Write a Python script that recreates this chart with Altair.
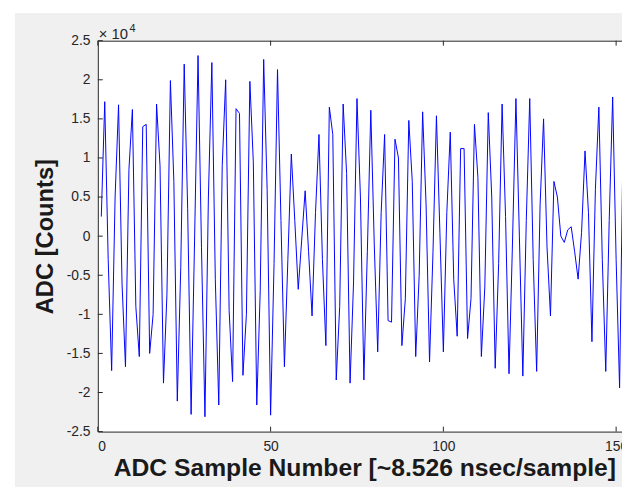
import altair as alt
import pandas as pd

# ADC samples (MATLAB 1-based sample index) and counts
sample_number = list(range(1, 153))
adc_counts = [
    2500, 17200, -3000, -17200, 5000, 16800, -6000, -16700, 8500, 16200,
    -9000, -15400, 14000, 14300, -15000, -10000, 16900, 9000, -18800, -7500,
    19900, 7000, -21100, -4000, 22000, 3500, -22800, -500, 23100, -1500,
    -23100, 5000, 22200, -5500, -21600, 9000, 20000, -9500, -18600, 16300,
    15700, -17800, -10000, 19800, 9500, -21600, -7000, 22600, 6000, -22900,
    -3500, 21300, 2000, -16700, -3000, 10500, 2000, -6800, -500, 5800,
    -2000, -10200, 3000, 13000, -3000, -14000, 16500, 13000, -18400, -9000,
    16900, 8000, -18800, -6000, 17600, 5000, -18400, -2000, 16100, -1000,
    -14800, 3000, 13000, -10800, -11000, 12400, 10000, -14000, -8000, 14800,
    7000, -15400, -5000, 15900, 4000, -16100, -2000, 15400, 500, -14800,
    3000, 13300, -5500, -12800, 11200, 11200, -13100, -8000, 14300, 7500,
    -15400, -6500, 15800, 5000, -16900, -3500, 16900, 2500, -17600, -1000,
    17600, 0, -17900, 2000, 17600, -3000, -17300, 4000, 15000, -1400,
    -10200, 7000, 5000, 0, -800, 800, 1200, -2000, -5500, 500,
    10900, 3000, -13500, 6000, 16500, -3000, -17300, 2000, 17800, -3000,
    -19400, 12000,
]

x_ticks = [0, 50, 100, 150]
y_ticks = [-25000, -20000, -15000, -10000, -5000, 0, 5000, 10000, 15000, 20000, 25000]

x_domain = [0, 151.7]
y_domain = [-25000, 25000]

AX = "#262626"
FONT = "Liberation Sans"

df = pd.DataFrame({"n": sample_number, "adc": adc_counts})
xt = pd.DataFrame({"v": x_ticks})
yt = pd.DataFrame({"v": y_ticks})
one = pd.DataFrame({"k": [0]})

xs = alt.Scale(domain=x_domain, nice=False, zero=False)
ys = alt.Scale(domain=y_domain, nice=False, zero=False)

# figure (grey) and axes (white) backgrounds
fig_bg = alt.Chart(one).mark_rect(color="#f0f0f0").encode(
    x=alt.value(-84), x2=alt.value(700), y=alt.value(-28), y2=alt.value(500)
)
ax_bg = alt.Chart(one).mark_rect(color="white").encode(
    x=alt.value(0), x2=alt.value(531), y=alt.value(0), y2=alt.value(396)
)

line = alt.Chart(df).mark_line(color="#0000ff", strokeWidth=1, clip=True).encode(
    x=alt.X("n:Q", scale=xs, axis=alt.Axis(
        values=x_ticks, format="d", ticks=False, domain=True, domainColor=AX,
        labelFontSize=14, labelColor=AX, labelPadding=8, labelFont=FONT,
        title="ADC Sample Number [~8.526 nsec/sample]", titleFont=FONT,
        titleFontSize=25, titleFontWeight="bold", titleColor="#1a1a1a",
        titleX=270, titleY=44, titleBaseline="alphabetic", titleAlign="center",
        grid=False, zindex=1)),
    y=alt.Y("adc:Q", scale=ys, axis=alt.Axis(
        values=y_ticks, labelExpr="'' + (datum.value / 10000)", ticks=False,
        domain=True, domainColor=AX, labelFontSize=14, labelColor=AX,
        labelPadding=8, labelFont=FONT,
        title="ADC [Counts]", titleFont=FONT, titleFontSize=24,
        titleFontWeight="bold", titleColor="#1a1a1a",
        titleX=-46, titleY=198, titleBaseline="alphabetic", titleAlign="center",
        grid=False, zindex=1)),
)

top_ticks = alt.Chart(xt).mark_rule(color=AX, strokeWidth=1).encode(
    x=alt.X("v:Q", scale=xs, axis=alt.Axis(
        orient="top", labels=False, ticks=False, domain=True, domainColor=AX,
        title="", grid=False, zindex=1)),
    y=alt.value(0), y2=alt.value(5),
)

bottom_ticks = alt.Chart(xt).mark_rule(color=AX, strokeWidth=1).encode(
    x=alt.X("v:Q", scale=xs, axis=None),
    y=alt.value(396), y2=alt.value(391),
)

left_ticks = alt.Chart(yt).mark_rule(color=AX, strokeWidth=1).encode(
    y=alt.Y("v:Q", scale=ys, axis=None),
    x=alt.value(0), x2=alt.value(5),
)

exp_base = alt.Chart(pd.DataFrame({"t": ["\u00d7 10"]})).mark_text(
    align="left", baseline="alphabetic", fontSize=15, font=FONT, color=AX
).encode(text="t:N", x=alt.value(1), y=alt.value(-2))

exp_pow = alt.Chart(pd.DataFrame({"t": ["4"]})).mark_text(
    align="left", baseline="alphabetic", fontSize=11, font=FONT, color=AX
).encode(text="t:N", x=alt.value(32), y=alt.value(-9))

chart = alt.layer(
    fig_bg, ax_bg, line, top_ticks, bottom_ticks, left_ticks, exp_base, exp_pow
).resolve_axis(x="independent", y="independent").properties(
    width=531, height=396,
    background="white",
    padding={"left": 91, "top": 30, "right": 0, "bottom": 53},
    autosize=alt.AutoSizeParams(type="none"),
).configure_view(fill="white", stroke="transparent")

chart.save("out.html", embed_options={"renderer": "svg", "actions": False})
